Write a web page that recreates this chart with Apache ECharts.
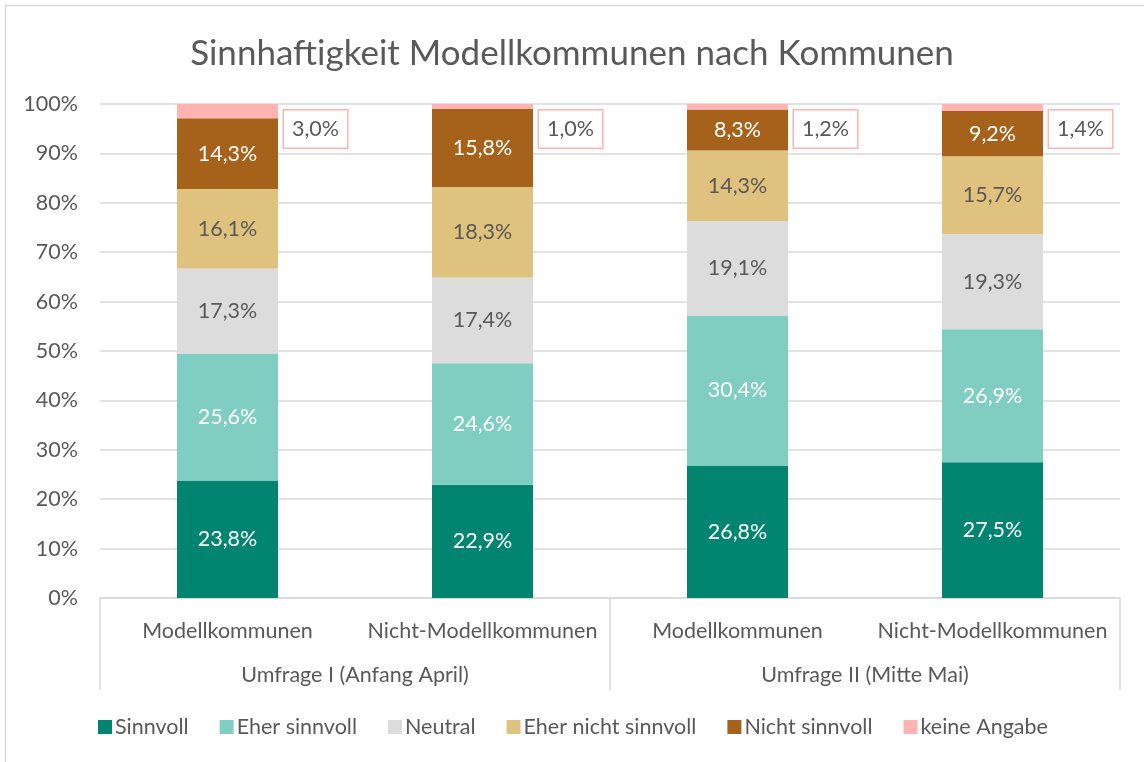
<!DOCTYPE html>
<html>
<head>
<meta charset="utf-8">
<script src="https://cdn.jsdelivr.net/npm/echarts@6/dist/echarts.min.js"></script>
<style>
html, body { margin: 0; padding: 0; background: #fff; }
#chart { width: 1144px; height: 762px; }
</style>
</head>
<body>
<div id="chart"></div>
<script type="text/javascript">
	// Kategorien (Balken) und Gruppen (Umfragen)
	var categories = [ 'Modellkommunen', 'Nicht-Modellkommunen', 'Modellkommunen', 'Nicht-Modellkommunen' ];
	var groups = [ 'Umfrage I (Anfang April)', 'Umfrage II (Mitte Mai)' ];
	var yTicks = [ 0, 10, 20, 30, 40, 50, 60, 70, 80, 90, 100 ];

	// Anteile in Prozent je Antwort
	var sinnvoll = [ 23.8, 22.9, 26.8, 27.5 ];
	var eherSinnvoll = [ 25.6, 24.6, 30.4, 26.9 ];
	var neutral = [ 17.3, 17.4, 19.1, 19.3 ];
	var eherNicht = [ 16.1, 18.3, 14.3, 15.7 ];
	var nichtSinnvoll = [ 14.3, 15.8, 8.3, 9.2 ];
	var keineAngabe = [ 3.0, 1.0, 1.2, 1.4 ];

	var seriesDefs = [
		{ name : 'Sinnvoll', data : sinnvoll, color : '#018571', text : '#ffffff' },
		{ name : 'Eher sinnvoll', data : eherSinnvoll, color : '#80CDC1', text : '#ffffff' },
		{ name : 'Neutral', data : neutral, color : '#DCDCDC', text : '#595959' },
		{ name : 'Eher nicht sinnvoll', data : eherNicht, color : '#DFC27D', text : '#595959' },
		{ name : 'Nicht sinnvoll', data : nichtSinnvoll, color : '#A6611A', text : '#ffffff' },
		{ name : 'keine Angabe', data : keineAngabe, color : '#FFB3B3', text : '#595959' }
	];

	function fmt(v) {
		return v.toFixed(1).replace('.', ',') + '%';
	}

	var FONT = 'Lato';
	var FS = 21.5;

	var series = seriesDefs.map(function (s, i) {
		var last = i === seriesDefs.length - 1;
		return {
			name : s.name,
			type : 'bar',
			stack : 'total',
			barWidth : 101,
			xAxisIndex : 0,
			data : s.data,
			itemStyle : { color : s.color },
			label : last ? {
				show : true,
				position : [ '100%', 0 ],
				offset : [ 6, 25 ],
				align : 'left',
				verticalAlign : 'middle',
				color : '#595959',
				fontFamily : FONT,
				fontSize : FS,
				backgroundColor : '#ffffff',
				borderColor : '#FFB3B3',
				borderWidth : 1.5,
				padding : [ 8, 8, 7, 8 ],
				formatter : function (p) { return fmt(p.value); }
			} : {
				show : true,
				position : 'inside',
				color : s.text,
				fontFamily : FONT,
				fontSize : FS,
				formatter : function (p) { return fmt(p.value); }
			}
		};
	});

	var option = {
		animation : false,
		backgroundColor : '#ffffff',
		title : {
			text : 'Sinnhaftigkeit Modellkommunen nach Kommunen',
			left : 'center',
			top : 31,
			textStyle : { color : '#595959', fontFamily : FONT, fontSize : 35, fontWeight : 'normal' }
		},
		graphic : [ {
			type : 'rect',
			shape : { x : 5.5, y : 5.5, width : 1200, height : 800 },
			style : { fill : 'none', stroke : '#D9D9D9', lineWidth : 1.5 },
			silent : true
		} ],
		legend : {
			bottom : 19,
			left : 93,
			itemWidth : 14,
			itemHeight : 14,
			itemGap : 31,
			icon : 'rect',
			textStyle : { color : '#595959', fontFamily : FONT, fontSize : FS, padding : [ 0, 0, 0, -2 ] },
			data : seriesDefs.map(function (s) { return s.name; })
		},
		grid : { left : 100, right : 24, top : 104, bottom : 164 },
		xAxis : [ {
			type : 'category',
			data : categories,
			position : 'bottom',
			axisLine : { lineStyle : { color : '#D9D9D9', width : 1.5 } },
			axisTick : { show : false },
			axisLabel : { interval : 0, color : '#595959', fontFamily : FONT, fontSize : FS, margin : 22 }
		}, {
			type : 'category',
			data : groups,
			position : 'bottom',
			axisLine : { show : false },
			axisTick : { show : true, length : 92, interval : 0, lineStyle : { color : '#D9D9D9', width : 1.5 } },
			axisLabel : { interval : 0, color : '#595959', fontFamily : FONT, fontSize : FS, margin : 66 }
		} ],
		yAxis : {
			type : 'value',
			min : yTicks[0],
			max : yTicks[yTicks.length - 1],
			interval : 10,
			axisLine : { show : false },
			axisTick : { show : false },
			splitLine : { lineStyle : { color : '#D9D9D9', width : 1.5 } },
			axisLabel : { color : '#595959', fontFamily : FONT, fontSize : FS, margin : 22, formatter : '{value}%' }
		},
		series : series
	};

	var chart = echarts.init(document.getElementById('chart'));
	chart.setOption(option);
</script>
</body>
</html>
